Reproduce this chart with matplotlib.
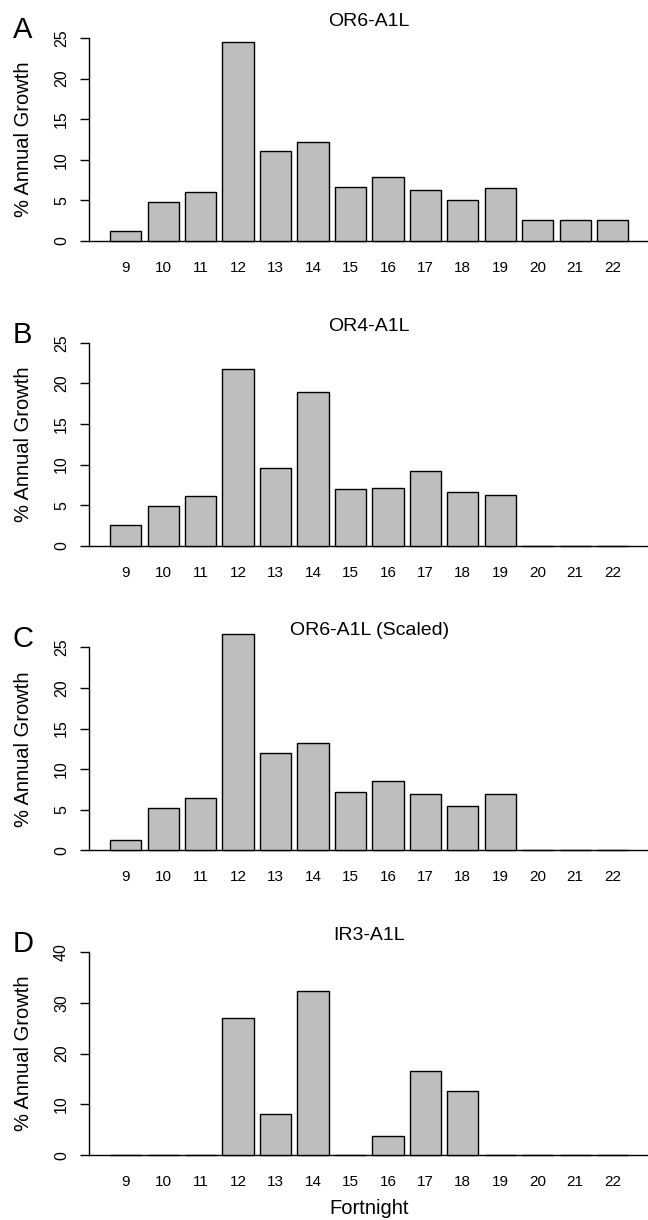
"""Annual growth per fortnight, four stacked bar panels."""

import matplotlib.pyplot as plt
import numpy as np

plt.rcParams["font.family"] = ["Liberation Sans", "DejaVu Sans"]

fortnights = [9, 10, 11, 12, 13, 14, 15, 16, 17, 18, 19, 20, 21, 22]

or6_a1l = [1.2, 4.8, 6.0, 24.5, 11.1, 12.2, 6.6, 7.9, 6.3, 5.1, 6.5, 2.6, 2.6, 2.6]
or4_a1l = [2.5, 4.9, 6.1, 21.8, 9.6, 18.9, 7.0, 7.1, 9.2, 6.6, 6.2, 0, 0, 0]
or6_a1l_scaled = [1.3, 5.2, 6.5, 26.7, 12.0, 13.2, 7.2, 8.6, 6.9, 5.5, 7.0, 0, 0, 0]
ir3_a1l = [0, 0, 0, 27.0, 8.0, 32.4, 0, 3.7, 16.6, 12.6, 0, 0, 0, 0]

panel_letters = ["A", "B", "C", "D"]
panel_titles = ["OR6-A1L", "OR4-A1L", "OR6-A1L (Scaled)", "IR3-A1L"]
panel_values = [or6_a1l, or4_a1l, or6_a1l_scaled, ir3_a1l]
panel_ymax = [25, 25, 25, 40]
panel_ystep = [5, 5, 5, 10]

W, H = 648, 1220
fig = plt.figure(figsize=(W / 100, H / 100), dpi=100)

# R barplot geometry: width 1, space 0.2, 4% axis extension
n = len(fortnights)
centers = 0.7 + 1.2 * np.arange(n)
x_lo, x_hi = 0.2, 1.2 * n
x_pad = 0.04 * (x_hi - x_lo)

left_px, right_px = 89.4, 649.0
tick_span_px = 203.0  # pixel height from 0 to ymax

for i, (letter, title, vals, ymax, ystep) in enumerate(
    zip(panel_letters, panel_titles, panel_values, panel_ymax, panel_ystep)
):
    y0 = 241 + 304.7 * i  # pixel row of the zero line
    per_unit = tick_span_px / ymax
    ylo, yhi = -0.04 * ymax, 1.04 * ymax
    top_px = y0 - yhi * per_unit
    bot_px = y0 - ylo * per_unit

    ax = fig.add_axes(
        [left_px / W, 1 - bot_px / H, (right_px - left_px) / W, (bot_px - top_px) / H]
    )
    ax.bar(
        centers,
        vals,
        width=1.0,
        color="#BEBEBE",
        edgecolor="black",
        linewidth=1.0,
        clip_on=False,
        zorder=2,
    )
    ax.axhline(0, color="black", linewidth=1.0, zorder=1)

    ax.set_xlim(x_lo - x_pad, x_hi + x_pad)
    ax.set_ylim(ylo, yhi)

    for side in ["top", "right", "bottom"]:
        ax.spines[side].set_visible(False)
    ax.spines["left"].set_bounds(0, ymax)
    ax.spines["left"].set_linewidth(1.0)

    ax.set_xticks(centers)
    ax.set_xticklabels([str(f) for f in fortnights], fontsize=11)
    ax.tick_params(axis="x", length=0, pad=8.5)

    ax.set_yticks(np.arange(0, ymax + 1, ystep))
    ax.tick_params(axis="y", length=6.7, width=1.0, pad=8, labelsize=11.5)
    for lab in ax.get_yticklabels():
        lab.set_rotation(90)
        lab.set_va("center")

    ax.set_ylabel("% Annual Growth", fontsize=14.5)
    ax.yaxis.set_label_coords((33 - left_px) / (right_px - left_px), 0.5)

    ax.set_title(title, fontsize=14, pad=1)

    # panel letter, baseline at the top tick
    fig.text(13 / W, 1 - (y0 - tick_span_px) / H, letter, fontsize=21,
             ha="left", va="baseline")

    if i == 3:
        ax.set_xlabel("Fortnight", fontsize=14.5)
        ax.xaxis.set_label_coords(0.5, (bot_px - 1199) / (bot_px - top_px))

plt.savefig("out.png", dpi=100, facecolor="white")
plt.close()
